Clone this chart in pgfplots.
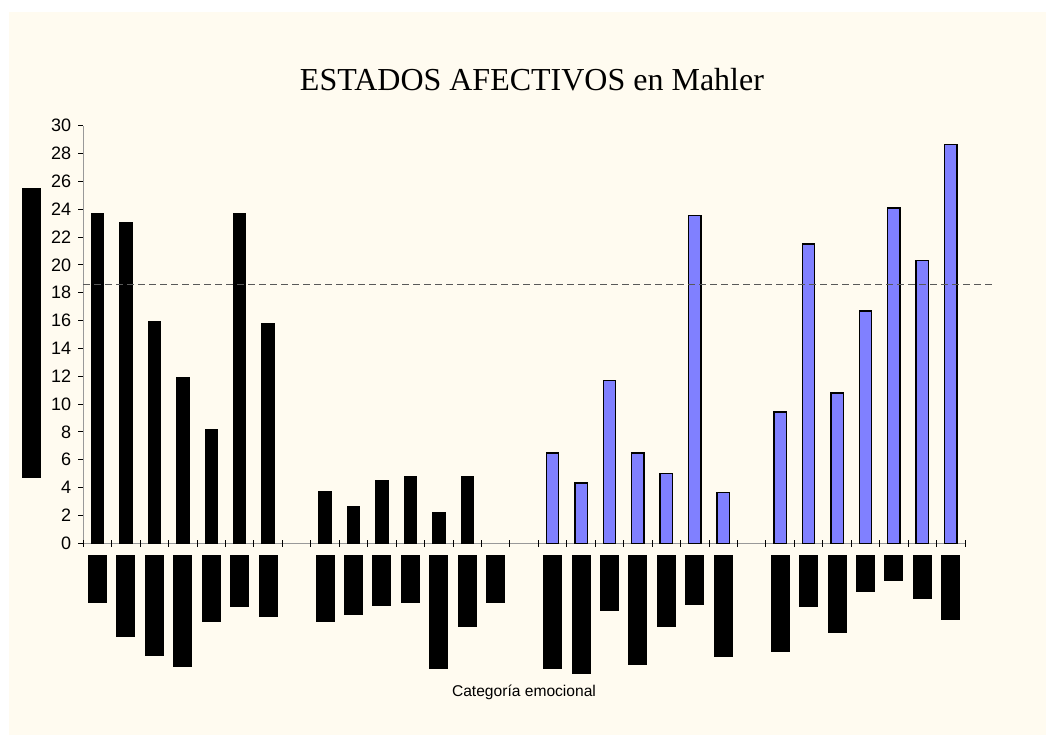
\documentclass[border=0pt]{standalone}
\usepackage{fontspec}
\setmainfont{Liberation Sans}
\newfontfamily\titlefont{Liberation Serif}
\usepackage{pgfplots}
\pgfplotsset{compat=1.18}
\definecolor{bgc}{RGB}{255,251,240}
\definecolor{barblue}{RGB}{128,128,255}
\begin{document}
\begin{tikzpicture}
\fill[white] (0,0) rectangle (523pt,367.5pt);
\fill[bgc] (4.5pt,0) rectangle (523pt,361.5pt);
% main axis: bars and y axis
\begin{axis}[
  at={(41.65pt,95.85pt)}, anchor=south west,
  scale only axis, width=440.85pt, height=208.8pt,
  xmin=-0.5, xmax=30.5, ymin=0, ymax=30,
  axis lines=left,
  axis line style={draw=black!40, -, line width=0.6pt},
  xtick=\empty,
  ytick={0,2,...,30},
  tick align=outside,
  major tick length=2.5pt,
  ytick style={black, line width=0.5pt},
  yticklabel style={font=\fontsize{9}{10}\selectfont},
  /pgf/number format/assume math mode=true,
  ylabel={\rule{145pt}{9.35pt}},
  ylabel style={at={(axis description cs:-0.0589,0.5043)}, anchor=center, inner sep=0pt},
  ybar, bar width=6.2pt, bar shift=0pt,
  clip=false,
]
\addplot[fill=black, draw=black, line width=0.5pt] coordinates {
 (0,23.7) (1,23.06) (2,15.95) (3,11.9) (4,8.14) (5,23.7) (6,15.8)
 (8,3.71) (9,2.63) (10,4.52) (11,4.79) (12,2.22) (13,4.79)
};
\addplot[fill=barblue, draw=black, line width=0.7pt] coordinates {
 (16,6.49) (17,4.33) (18,11.7) (19,6.49) (20,5.0) (21,23.54) (22,3.66)
 (24,9.43) (25,21.5) (26,10.8) (27,16.7) (28,24.09) (29,20.3) (30,28.66)
};
\addplot[sharp plot, draw=black!65, line width=0.6pt, dash pattern=on 3.2pt off 2.3pt] coordinates {
 (-0.5,18.58) (31.45,18.58)
};
\end{axis}
% overlay axis: category ticks and (redacted) category labels
\begin{axis}[
  at={(41.65pt,95.85pt)}, anchor=south west,
  scale only axis, width=440.85pt, height=208.8pt,
  xmin=-0.5, xmax=30.5, ymin=0, ymax=30,
  axis x line=bottom, axis y line=none,
  x axis line style={draw=none},
  ytick=\empty,
  tick align=center,
  xtick={0,1,2,3,4,5,6,8,9,10,11,12,13,14,16,17,18,19,20,21,22,24,25,26,27,28,29,30},
  major x tick style={draw=none},
  minor xtick={-0.5,0.5,...,30.5},
  minor tick length=3.5pt,
  minor x tick style={black, line width=0.5pt},
  xticklabel style={anchor=north, inner sep=0pt, yshift=-3.4pt},
  xticklabels={
   \rule{9.5pt}{24.35pt},\rule{9.5pt}{41.35pt},\rule{9.5pt}{50.5pt},\rule{9.5pt}{56.35pt},\rule{9.5pt}{33.85pt},\rule{9.5pt}{26.35pt},\rule{9.5pt}{31pt},
   \rule{9.5pt}{33.85pt},\rule{9.5pt}{30pt},\rule{9.5pt}{25.5pt},\rule{9.5pt}{24.35pt},\rule{9.5pt}{57.35pt},\rule{9.5pt}{36pt},\rule{9.5pt}{24.35pt},
   \rule{9.5pt}{57.35pt},\rule{9.5pt}{59.85pt},\rule{9.5pt}{28.35pt},\rule{9.5pt}{55.35pt},\rule{9.5pt}{36.35pt},\rule{9.5pt}{25.35pt},\rule{9.5pt}{51.35pt},
   \rule{9.5pt}{48.85pt},\rule{9.5pt}{26.35pt},\rule{9.5pt}{39.35pt},\rule{9.5pt}{18.85pt},\rule{9.5pt}{13.35pt},\rule{9.5pt}{22.35pt},\rule{9.5pt}{32.85pt}},
]
\addplot[draw=none, forget plot] coordinates {(0,0) (30,0)};
\end{axis}
\node[font=\titlefont\fontsize{16}{19}\selectfont, anchor=base] at (266pt,322pt) {ESTADOS AFECTIVOS en Mahler};
\node[font=\fontsize{7.8}{9}\selectfont, anchor=base] at (262pt,19.5pt) {Categoría emocional};
\pgfresetboundingbox
\path[use as bounding box] (0,0) rectangle (523pt,367.5pt);
\end{tikzpicture}
\end{document}
